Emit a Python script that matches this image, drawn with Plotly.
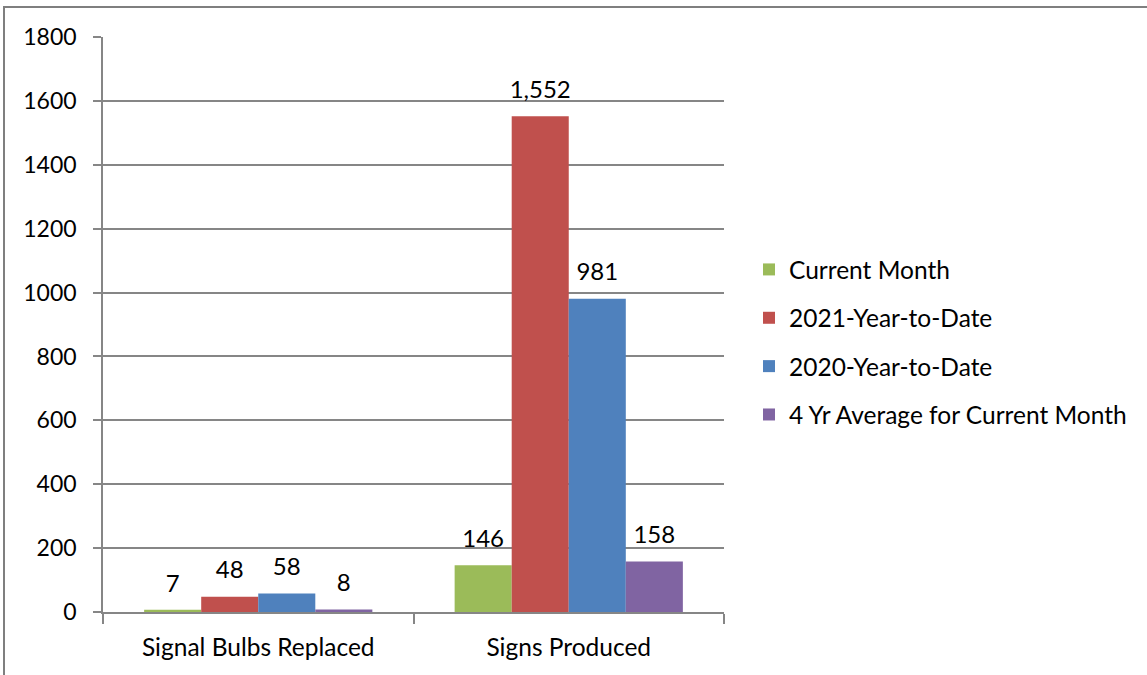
import plotly.graph_objects as go

categories = ["Signal Bulbs Replaced", "Signs Produced"]
series_names = ["Current Month", "2021-Year-to-Date", "2020-Year-to-Date", "4 Yr Average for Current Month"]
current_month = [7, 146]
ytd_2021 = [48, 1552]
ytd_2020 = [58, 981]
avg_4yr = [8, 158]
y_ticks = [0, 200, 400, 600, 800, 1000, 1200, 1400, 1600, 1800]

series_values = [current_month, ytd_2021, ytd_2020, avg_4yr]
colors = ["#9BBB59", "#C0504D", "#4F81BD", "#8064A2"]

FONT = "Lato"
fig = go.Figure()
for i, (name, vals, col) in enumerate(zip(series_names, series_values, colors)):
    fig.add_trace(go.Bar(
        x=categories, y=vals, name=name, marker=dict(color=col, line=dict(width=0)),
        offsetgroup=str(i), legendgroup=str(i), hoverinfo="skip",
    ))
for i, vals in enumerate(series_values):
    fig.add_trace(go.Scatter(
        x=categories, y=vals, mode="markers+text", offsetgroup=str(i),
        text=[f"{v:,}" for v in vals], textposition="top center",
        textfont=dict(family=FONT, size=24, color="#000000"),
        marker=dict(size=18, opacity=0), showlegend=False, hoverinfo="skip",
    ))

W, H = 1147, 675
L, R, T, B = 103, 724, 37, 612
PW, PH = R - L, B - T
fig.update_layout(
    width=W, height=H,
    margin=dict(l=L, r=W - R, t=T, b=H - B, pad=0, autoexpand=False),
    paper_bgcolor="white", plot_bgcolor="white",
    barmode="group", bargap=0.265, bargroupgap=0, scattermode="group",
    font=dict(family=FONT, size=24, color="#000000"),
    legend=dict(x=(749 - L) / PW, xanchor="left", y=(B - 342) / PH, yanchor="middle",
                font=dict(family=FONT, size=24.5), tracegroupgap=13.5, itemwidth=30,
                bgcolor="rgba(0,0,0,0)"),
    showlegend=True,
    shapes=[dict(type="rect", xref="paper", yref="paper",
                 x0=(4 - L) / PW, x1=(1170 - L) / PW,
                 y0=(B - 700) / PH, y1=(B - 7) / PH,
                 line=dict(color="#7f7f7f", width=2), layer="below")],
)
fig.update_xaxes(showline=True, linecolor="#868686", linewidth=1.5, ticks="outside",
                 tickson="boundaries", ticklen=10, tickcolor="#868686", tickwidth=1.5,
                 showgrid=False, ticklabelstandoff=13,
                 tickfont=dict(family=FONT, size=24.5))
fig.update_yaxes(range=[0, 1800], tickvals=y_ticks, showline=True, linecolor="#868686",
                 linewidth=1.5, ticks="outside", ticklen=8, tickcolor="#868686", tickwidth=1.5,
                 showgrid=True, gridcolor="#868686", gridwidth=1.5, zeroline=False,
                 ticklabelstandoff=12, tickfont=dict(family=FONT, size=23))

fig.write_html("out.html", config={"displayModeBar": False},
               post_script="document.body.style.margin='0';")
